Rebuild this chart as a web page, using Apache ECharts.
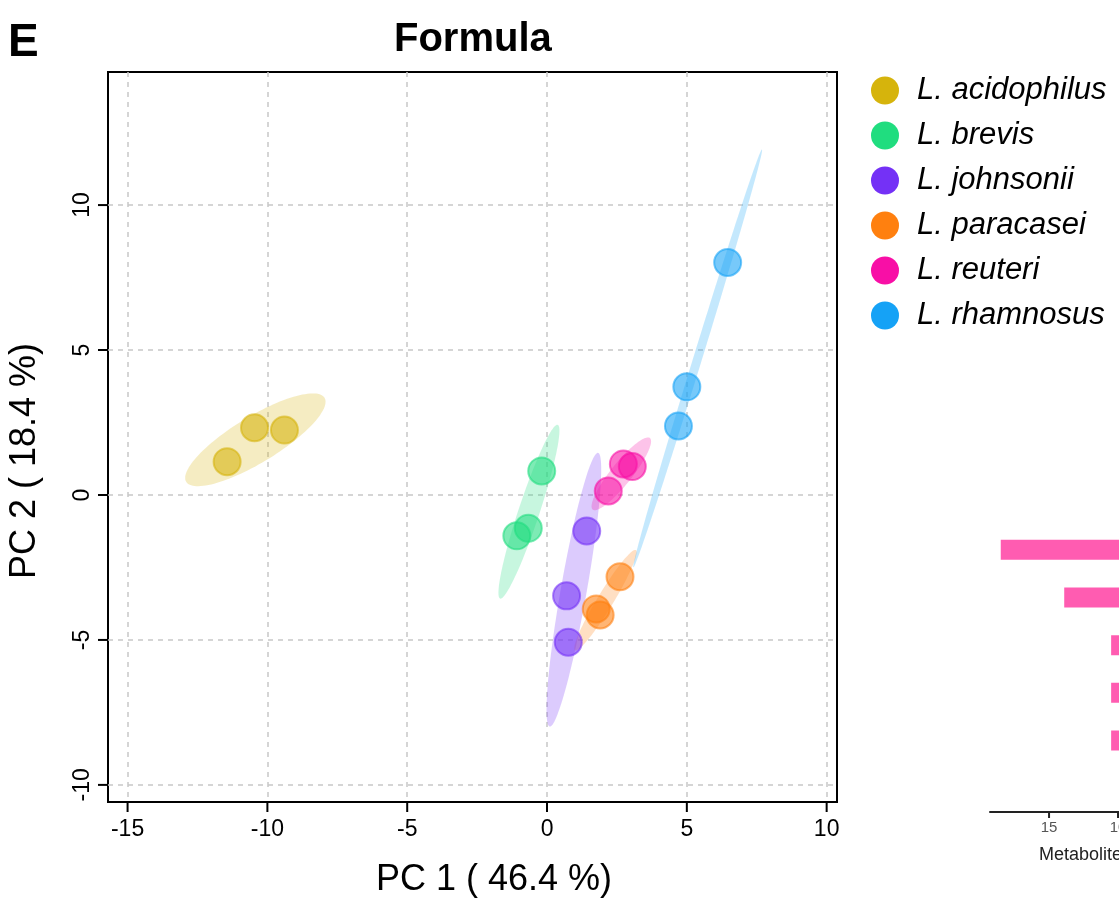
<!DOCTYPE html>
<html><head><meta charset="utf-8">
<script src="https://cdn.jsdelivr.net/npm/echarts@6/dist/echarts.min.js"></script>
<style>html,body{margin:0;padding:0;background:#fff}#c{width:1119px;height:904px}</style>
</head><body><div id="c"></div>
<script>
// ---- data ----
const species = ['L. acidophilus', 'L. brevis', 'L. johnsonii', 'L. paracasei', 'L. reuteri', 'L. rhamnosus'];
const speciesColors = ['#D6B40C', '#20DD7F', '#7431F6', '#FF800F', '#F80FA6', '#15A2F6'];
const acidophilus = [[-11.44, 1.15], [-10.46, 2.32], [-9.39, 2.24]];
const brevis      = [[-0.19, 0.83], [-0.67, -1.15], [-1.08, -1.41]];
const johnsonii   = [[1.42, -1.24], [0.70, -3.48], [0.76, -5.08]];
const paracasei   = [[2.61, -2.82], [1.76, -3.93], [1.90, -4.14]];
const reuteri     = [[2.73, 1.07], [3.05, 0.98], [2.19, 0.14]];
const rhamnosus   = [[6.46, 8.02], [5.00, 3.73], [4.70, 2.38]];
const groups = [acidophilus, brevis, johnsonii, paracasei, reuteri, rhamnosus];
const xTicks = [-15, -10, -5, 0, 5, 10];
const yTicks = [-10, -5, 0, 5, 10];
const tickStep = 5;
const xRange = [-15.70, 10.37];
const yRange = [-10.59, 14.59];
const titleText = 'Formula';
const xName = 'PC 1 ( 46.4 %)';
const yName = 'PC 2 ( 18.4 %)';
// partially visible bar panel on the right
const barCategories = ['Metabolite 1', 'Metabolite 2', 'Metabolite 3', 'Metabolite 4', 'Metabolite 5', 'Metabolite 6'];
const barValues = [18.5, 13.9, 10.5, 10.5, 10.5, '-'];
const barTicks = [0, 5, 10, 15];
const barAxisMax = 19.28;
const barAxisName = 'Metabolites';

// ---- 95% normal confidence ellipse from the group points ----
const CHI = Math.sqrt(5.991);
function ellipse(pts, n) {
  const m = pts.length;
  const mx = pts.reduce((s, p) => s + p[0], 0) / m;
  const my = pts.reduce((s, p) => s + p[1], 0) / m;
  let sxx = 0, syy = 0, sxy = 0;
  pts.forEach(p => { sxx += (p[0] - mx) ** 2; syy += (p[1] - my) ** 2; sxy += (p[0] - mx) * (p[1] - my); });
  sxx /= (m - 1); syy /= (m - 1); sxy /= (m - 1);
  const a = Math.sqrt(sxx), b = sxy / a, c = Math.sqrt(Math.max(syy - b * b, 0));
  const out = [];
  for (let i = 0; i < n; i++) {
    const t = 2 * Math.PI * i / n;
    out.push([mx + CHI * a * Math.cos(t), my + CHI * (b * Math.cos(t) + c * Math.sin(t))]);
  }
  return { center: [mx, my], pts: out };
}

const FF = 'Liberation Sans, Arial, Helvetica, sans-serif';
const series = [];
groups.forEach((g, i) => {
  const e = ellipse(g, 120);
  series.push({
    type: 'custom', name: species[i] + ' ellipse', xAxisIndex: 0, yAxisIndex: 0,
    data: [e.center], silent: true, z: 1, clip: false,
    renderItem: (params, api) => ({
      type: 'polygon',
      shape: { points: e.pts.map(p => api.coord(p)) },
      style: { fill: speciesColors[i], opacity: 0.25 }
    })
  });
});
groups.forEach((g, i) => {
  series.push({
    type: 'scatter', name: species[i], xAxisIndex: 0, yAxisIndex: 0, data: g, z: 3,
    symbolSize: 27,
    itemStyle: { color: speciesColors[i], opacity: 0.58, borderColor: speciesColors[i], borderWidth: 2 }
  });
});
series.push({
  type: 'bar', name: 'bars', xAxisIndex: 1, yAxisIndex: 1, data: barValues, barWidth: 20,
  itemStyle: { color: '#FF5CB1' }, silent: true
});

const gridLineStyle = { color: '#c8c8c8', type: [5, 5], width: 1.5 };
const textGraphics = [
  { id: 'tagE', type: 'text', x: 8, y: 20, style: { text: 'E', font: 'bold 46px ' + FF, fill: '#000' } },
  { id: 'xname', type: 'text', x: 494, y: 880, style: { text: xName, font: '36px ' + FF, fill: '#000',
      textAlign: 'center', textVerticalAlign: 'middle', align: 'center', verticalAlign: 'middle' } },
  { id: 'yname', type: 'text', x: 25, y: 461, rotation: Math.PI / 2, style: { text: yName, font: '36px ' + FF, fill: '#000',
      textAlign: 'center', textVerticalAlign: 'middle', align: 'center', verticalAlign: 'middle' } },
  { id: 'barname', type: 'text', x: 1039, y: 846, style: { text: barAxisName, font: '18px ' + FF, fill: '#222' } }
];
const chart = echarts.init(document.getElementById('c'), null, { renderer: 'canvas' });
chart.setOption({
  backgroundColor: '#fff',
  animation: false,
  title: { text: titleText, left: 394, top: 20, padding: 0,
    textStyle: { fontSize: 40, fontWeight: 'bold', fontFamily: FF, color: '#000' } },
  legend: {
    data: species.map((s, i) => ({ name: s, icon: 'circle', itemStyle: { color: speciesColors[i], opacity: 1, borderWidth: 0 } })),
    orient: 'vertical', left: 871, top: 75, padding: 0,
    itemWidth: 28, itemHeight: 28, itemGap: 14, selectedMode: false,
    textStyle: { fontSize: 31, lineHeight: 31, fontStyle: 'italic', fontFamily: FF, color: '#000', padding: [0, 0, 0, 13] }
  },
  grid: [
    { left: 108, top: 72, width: 729, height: 730, show: true, borderColor: '#000', borderWidth: 2,
      backgroundColor: 'transparent', outerBoundsMode: 'none', containLabel: false },
    { left: 990, top: 526, width: 266, height: 286, show: false, outerBoundsMode: 'none', containLabel: false }
  ],
  xAxis: [
    { type: 'value', gridIndex: 0, min: xRange[0], max: xRange[1], position: 'bottom',
      axisLine: { show: false, onZero: false }, axisTick: { show: false, customValues: xTicks },
      axisLabel: { customValues: xTicks, fontSize: 23, color: '#000', margin: 16, fontFamily: FF },
      splitLine: { show: true, lineStyle: gridLineStyle } },
    { type: 'value', gridIndex: 1, inverse: true, min: 0, max: barAxisMax, interval: tickStep, position: 'bottom',
      axisLine: { show: true, onZero: false, lineStyle: { color: '#222', width: 2 } },
      axisTick: { show: false },
      axisLabel: { fontSize: 15, color: '#555', margin: 8, fontFamily: FF,
        formatter: v => (barTicks.indexOf(v) >= 0 ? String(v) : '') },
      splitLine: { show: false } }
  ],
  yAxis: [
    { type: 'value', gridIndex: 0, min: yRange[0], max: yRange[1], position: 'left',
      axisLine: { show: false, onZero: false }, axisTick: { show: false, customValues: yTicks },
      axisLabel: { customValues: yTicks, rotate: 90, fontSize: 23, color: '#000', margin: 14, fontFamily: FF },
      splitLine: { show: true, lineStyle: gridLineStyle } },
    { type: 'category', gridIndex: 1, data: barCategories, inverse: true,
      axisLine: { show: false }, axisTick: { show: false }, axisLabel: { show: false } }
  ],
  graphic: textGraphics,
  series: series
});

// outward tick marks as thin filled rectangles, positioned through the chart's own axis scales
const TICK = 10, TW = 2;
const tickGraphics = [];
xTicks.forEach((v, i) => {
  const p = chart.convertToPixel({ gridIndex: 0 }, [v, yRange[0]]);
  tickGraphics.push({ id: 'xt' + i, type: 'rect', z: 100, silent: true,
    shape: { x: p[0] - TW / 2, y: p[1], width: TW, height: TICK }, style: { fill: '#000' } });
});
yTicks.forEach((v, i) => {
  const p = chart.convertToPixel({ gridIndex: 0 }, [xRange[0], v]);
  tickGraphics.push({ id: 'yt' + i, type: 'rect', z: 100, silent: true,
    shape: { x: p[0] - TICK, y: p[1] - TW / 2, width: TICK, height: TW }, style: { fill: '#000' } });
});
// tick marks on the partial bar axis (base line lies below the last category band)
const lastC = chart.convertToPixel({ yAxisIndex: 1 }, barCategories[barCategories.length - 1]);
const prevC = chart.convertToPixel({ yAxisIndex: 1 }, barCategories[barCategories.length - 2]);
const barBase = lastC + (lastC - prevC) / 2;
barTicks.forEach((v, i) => {
  const x = chart.convertToPixel({ xAxisIndex: 1 }, v);
  tickGraphics.push({ id: 'bt' + i, type: 'rect', z: 100, silent: true,
    shape: { x: x - TW / 2, y: barBase, width: TW, height: 6 }, style: { fill: '#222' } });
});
chart.setOption({ graphic: textGraphics.concat(tickGraphics) });
</script></body></html>
